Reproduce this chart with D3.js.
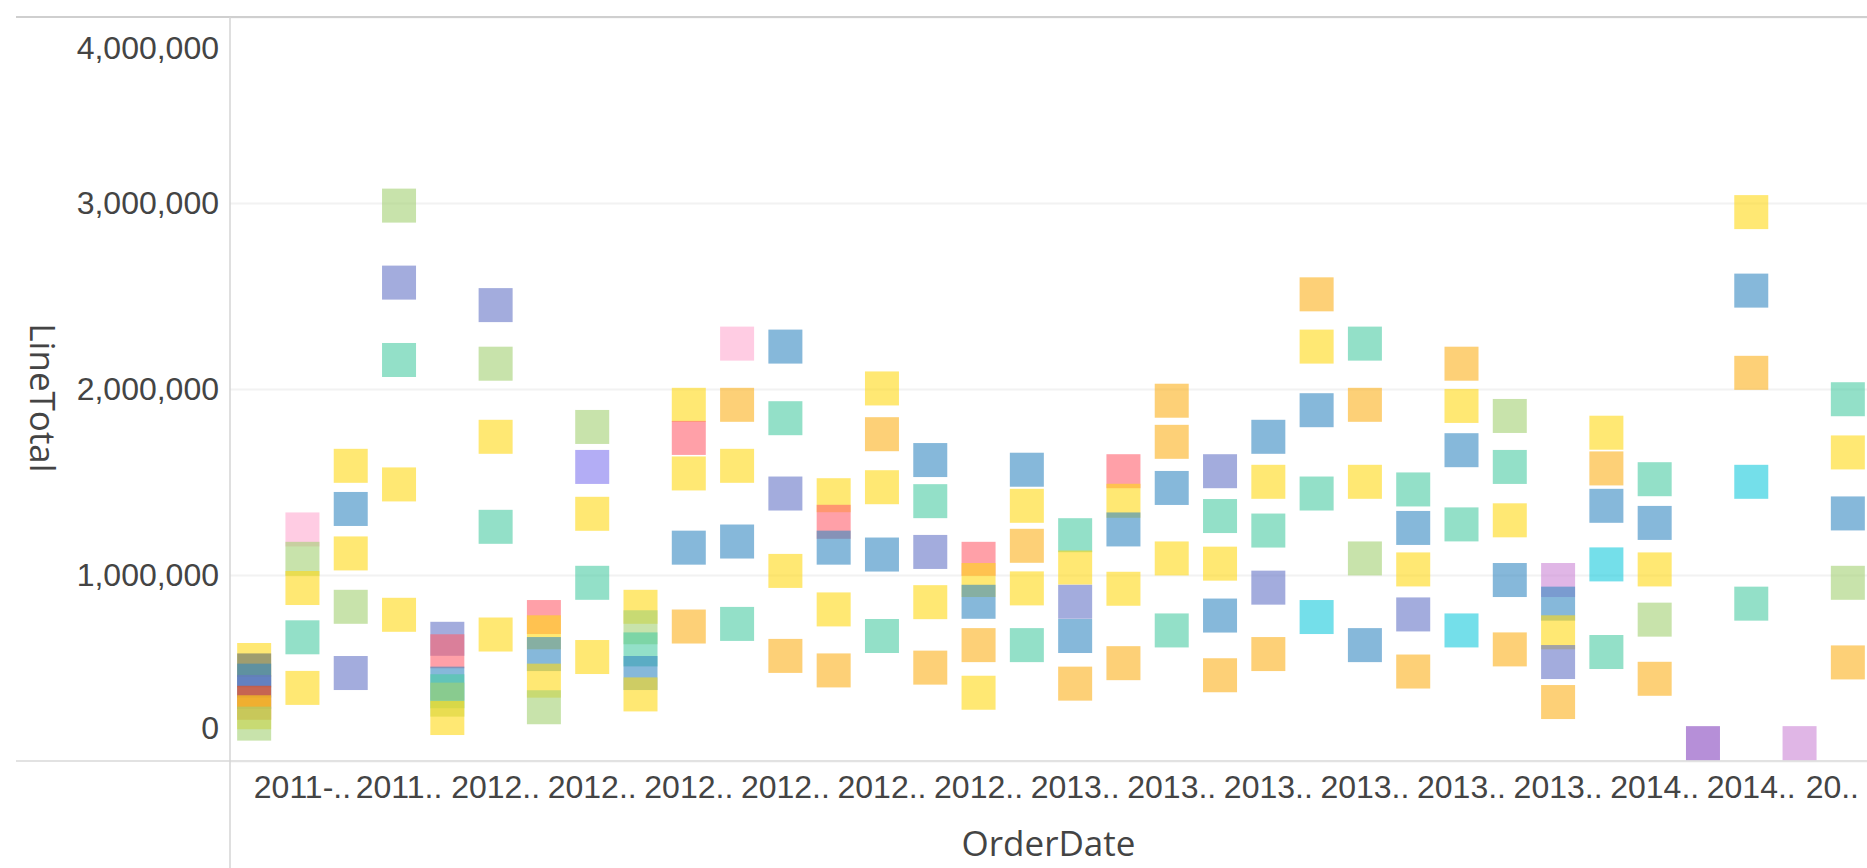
<!DOCTYPE html>
<html>
<head>
<meta charset="utf-8">
<script src="https://cdn.jsdelivr.net/npm/d3@7"></script>
<style>
  body { margin: 0; background: #fff; }
  svg { display: block; font-family: "Open Sans", "Noto Sans", sans-serif; }
  .tick text { fill: #444; }
  .title { fill: #444; }
</style>
</head>
<body>
<div id="chart"></div>
<script>
// categories on the x axis (one per month)
var orderDates = ["2011-08", "2011-09", "2011-10", "2011-11", "2011-12",
  "2012-01", "2012-02", "2012-03", "2012-04", "2012-05", "2012-06",
  "2012-07", "2012-08", "2012-09", "2012-10", "2012-11", "2012-12",
  "2013-01", "2013-02", "2013-03", "2013-04", "2013-05", "2013-06",
  "2013-07", "2013-08", "2013-09", "2013-10", "2013-11", "2013-12",
  "2014-01", "2014-02", "2014-03", "2014-04", "2014-05"];

// truncated labels shown under every second category
var tickLabels = ["2011-..", "2011..", "2012..", "2012..", "2012..", "2012..",
  "2012..", "2012..", "2013..", "2013..", "2013..", "2013..", "2013..",
  "2013..", "2014..", "2014..", "20.."];

var yTicks = [0, 1000000, 2000000, 3000000, 4000000];

// LineTotal values per date, in drawing order
var lineTotals = [
  [543000, 487000, 432000, 371000, 313000, 262000, 201000],
  [1245000, 1087000, 930000, 665000, 393000],
  [1587000, 1355000, 1116000, 829000, 473000],
  [2986000, 2572000, 2156000, 1487000, 786000],
  [657000, 590000, 416000, 375000, 330000, 231000],
  [2451000, 2136000, 1743000, 1259000, 680000],
  [774000, 692000, 575000, 432000, 289000],
  [1796000, 1581000, 1329000, 958000, 559000],
  [829000, 719000, 600000, 473000, 358000],
  [1915000, 1737000, 1546000, 1147000, 723000],
  [2244000, 1915000, 1587000, 1180000, 737000],
  [2228000, 1843000, 1438000, 1022000, 565000],
  [1429000, 1286000, 1147000, 815000, 487000],
  [2003000, 1757000, 1472000, 1110000, 672000],
  [1618000, 1397000, 1124000, 854000, 502000],
  [1087000, 973000, 856000, 623000, 367000],
  [1566000, 1372000, 1157000, 928000, 623000],
  [1214000, 1040000, 856000, 672000, 416000],
  [1558000, 1399000, 1245000, 926000, 526000],
  [1937000, 1716000, 1468000, 1089000, 702000],
  [1558000, 1317000, 1061000, 782000, 461000],
  [1743000, 1501000, 1239000, 932000, 575000],
  [2509000, 2228000, 1886000, 1438000, 774000],
  [2244000, 1915000, 1501000, 1089000, 623000],
  [1460000, 1253000, 1030000, 788000, 481000],
  [2136000, 1909000, 1671000, 1272000, 702000],
  [1855000, 1581000, 1294000, 973000, 600000],
  [973000, 846000, 692000, 532000, 317000],
  [1765000, 1573000, 1372000, 1057000, 586000],
  [1515000, 1280000, 1030000, 760000, 442000],
  [96000],
  [2951000, 2529000, 2087000, 1501000, 846000],
  [96000],
  [1945000, 1659000, 1331000, 958000, 530000]
];

// legend group of each point (same shape as lineTotals)
var groups = [
  ["Y", "D", "B", "P", "R", "Y", "G"],
  ["K", "G", "Y", "M", "Y"],
  ["Y", "B", "Y", "G", "P"],
  ["G", "P", "M", "Y", "Y"],
  ["P", "S", "B", "M", "G", "Y"],
  ["P", "G", "Y", "M", "Y"],
  ["S", "Y", "B", "Y", "G"],
  ["G", "V", "Y", "M", "Y"],
  ["Y", "G", "M", "B", "Y"],
  ["Y", "S", "Y", "B", "O"],
  ["K", "O", "Y", "B", "M"],
  ["B", "M", "P", "Y", "O"],
  ["Y", "S", "B", "Y", "O"],
  ["Y", "O", "Y", "B", "M"],
  ["B", "M", "P", "Y", "O"],
  ["S", "Y", "B", "O", "Y"],
  ["B", "Y", "O", "Y", "M"],
  ["M", "Y", "P", "B", "O"],
  ["S", "Y", "B", "Y", "O"],
  ["O", "O", "B", "Y", "M"],
  ["P", "M", "Y", "B", "O"],
  ["B", "Y", "M", "P", "O"],
  ["O", "Y", "B", "M", "C"],
  ["M", "O", "Y", "G", "B"],
  ["M", "B", "Y", "P", "O"],
  ["O", "Y", "B", "M", "C"],
  ["G", "M", "Y", "B", "O"],
  ["L", "B", "Y", "P", "O"],
  ["Y", "O", "B", "C", "M"],
  ["M", "B", "Y", "G", "O"],
  ["U"],
  ["Y", "B", "O", "C", "M"],
  ["L"],
  ["M", "Y", "B", "G", "O"]
];

var groupKeys = ["Y", "O", "M", "B", "P", "G", "K", "S", "C", "L", "U", "V", "R", "D"];
var groupColors = ["#FFD916", "#FCB11C", "#4BCBA3", "#3589C1", "#6675C6", "#A3D073",
  "#FFAAD0", "#FF616E", "#17CADC", "#CB85D5", "#8544BE", "#8076EE", "#FF4900", "#5F6B6D"];

var W = 1867, H = 868;
var plotLeft = 230, plotRight = 1872, plotTop = 17, plotBottom = 761;
var size = 34;

var points = [];
orderDates.forEach(function(d, i) {
  lineTotals[i].forEach(function(v, j) {
    points.push({date: d, value: v, group: groups[i][j]});
  });
});

var svg = d3.select("#chart").append("svg")
  .attr("width", W)
  .attr("height", H);

var x = d3.scaleBand()
  .domain(orderDates)
  .range([plotLeft, plotRight])
  .padding(0);

var y = d3.scaleLinear()
  .domain([0, 4000000])
  .range([plotBottom, plotTop]);

var color = d3.scaleOrdinal()
  .domain(groupKeys)
  .range(groupColors);

// gridlines + y labels
var yAxis = d3.axisLeft(y)
  .tickValues(yTicks)
  .tickFormat(d3.format(","))
  .tickSize(-(W - plotLeft))
  .tickPadding(11);

var gy = svg.append("g")
  .attr("class", "y axis")
  .attr("transform", "translate(" + plotLeft + ",0)")
  .call(yAxis);
gy.select(".domain").remove();
gy.selectAll(".tick line")
  .attr("stroke", "#f2f2f2")
  .attr("stroke-width", 2);
gy.selectAll(".tick text")
  .style("font-size", "32px")
  .attr("dy", function(d) {
    if (d === 4000000) return "41px";
    if (d === 0) return "-23px";
    return "10px";
  });

// frame lines
svg.append("line")
  .attr("x1", 16).attr("x2", W)
  .attr("y1", y(4000000)).attr("y2", y(4000000))
  .attr("stroke", "#cfcfcf").attr("stroke-width", 2);
svg.append("line")
  .attr("x1", 16).attr("x2", W)
  .attr("y1", y(0)).attr("y2", y(0))
  .attr("stroke", "#e2e2e2").attr("stroke-width", 2);
svg.append("line")
  .attr("x1", plotLeft).attr("x2", plotLeft)
  .attr("y1", plotTop).attr("y2", H)
  .attr("stroke", "#d4d4d4").attr("stroke-width", 1.5);

// markers
svg.append("g").selectAll("rect")
  .data(points)
  .enter()
  .append("rect")
  .attr("x", function(d) { return x(d.date) + x.bandwidth() / 2 - size / 2; })
  .attr("y", function(d) { return y(d.value) - size / 2; })
  .attr("width", size)
  .attr("height", size)
  .attr("fill", function(d) { return color(d.group); })
  .attr("fill-opacity", 0.6);

// x labels
var labelled = orderDates.filter(function(d, i) { return i % 2 === 1; });
var xAxis = d3.axisBottom(x)
  .tickValues(labelled)
  .tickFormat(function(d, i) { return tickLabels[i]; })
  .tickSize(0)
  .tickPadding(14);

var gx = svg.append("g")
  .attr("class", "x axis")
  .attr("transform", "translate(0," + plotBottom + ")")
  .call(xAxis);
gx.select(".domain").remove();
gx.selectAll(".tick text")
  .style("font-size", "32px")
  .attr("x", function() {
    var w = this.getComputedTextLength();
    var cx = +this.parentNode.getAttribute("transform").match(/translate\(([\d.]+)/)[1];
    var over = cx + w / 2 - 1859;
    return over > 0 ? -over : 0;
  });

// axis titles
svg.append("text")
  .attr("class", "title")
  .attr("x", (plotLeft + W) / 2)
  .attr("y", 856)
  .attr("text-anchor", "middle")
  .style("font-size", "35px")
  .text("OrderDate");

svg.append("text")
  .attr("class", "title")
  .attr("transform", "translate(30," + 398 + ") rotate(90)")
  .attr("text-anchor", "middle")
  .style("font-size", "35px")
  .text("LineTotal");
</script>
</body>
</html>
